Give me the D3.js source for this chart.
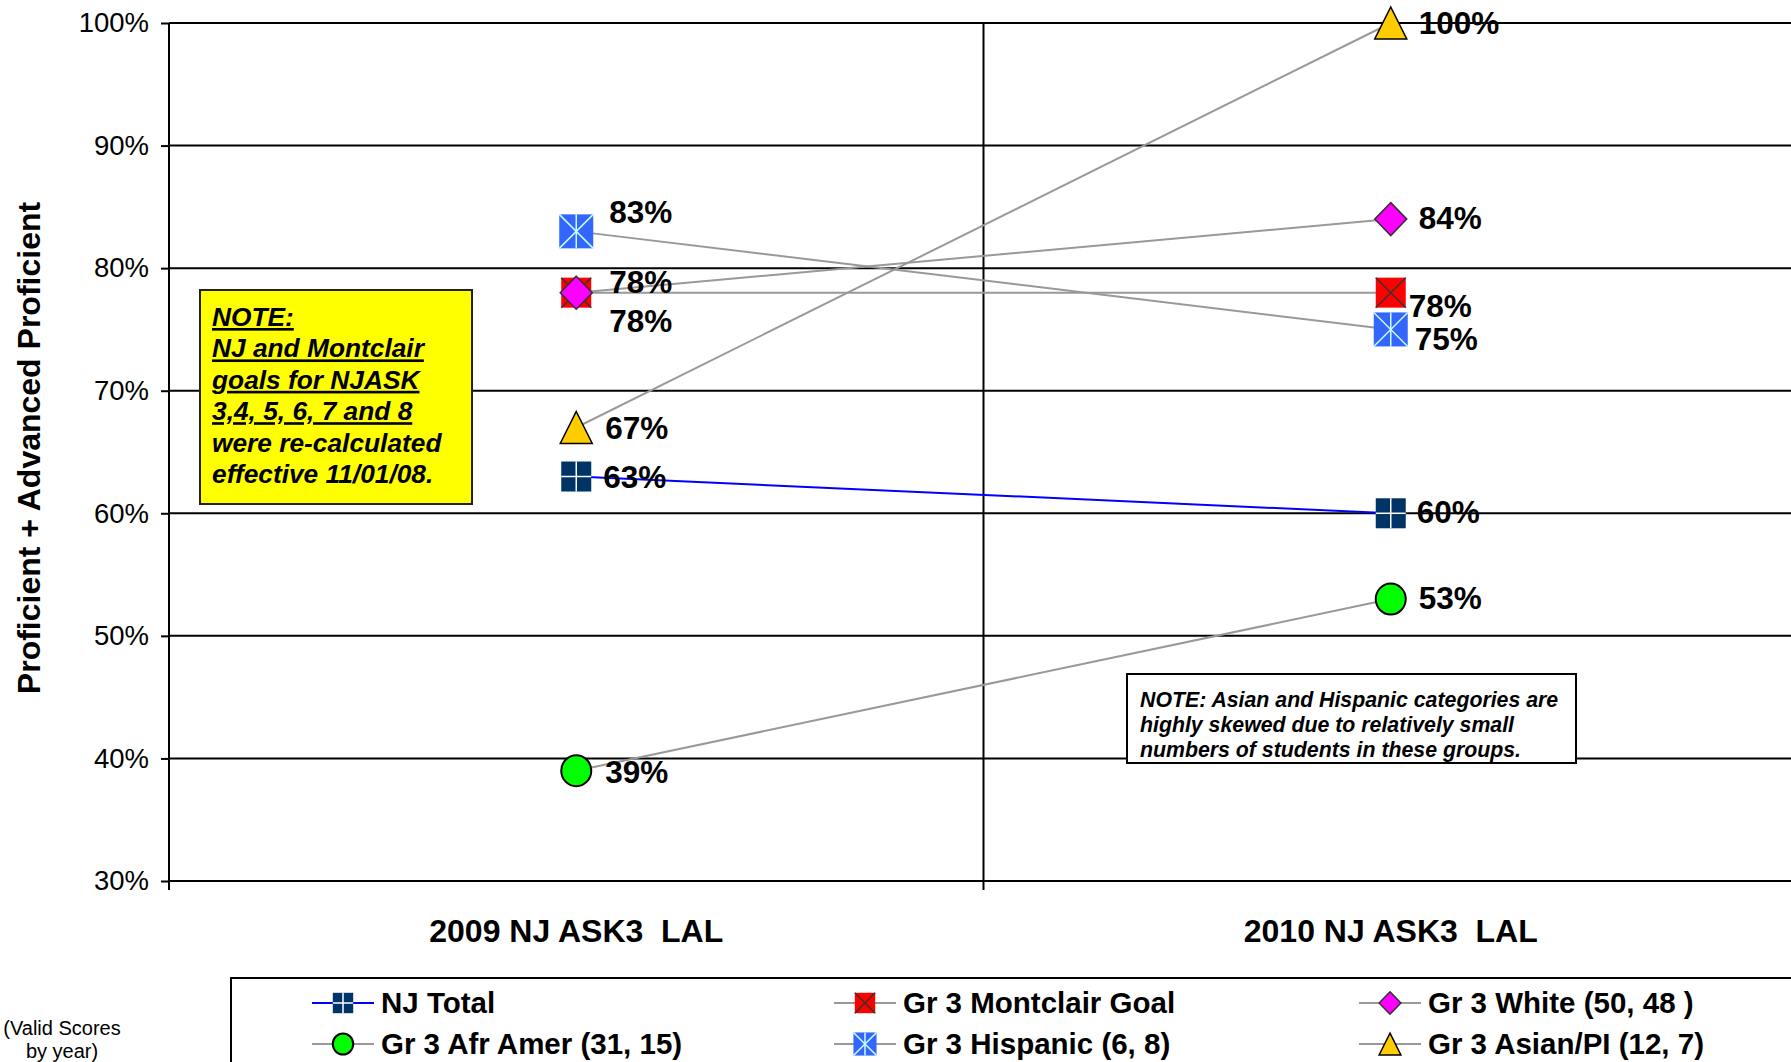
<!DOCTYPE html>
<html>
<head>
<meta charset="utf-8">
<script src="https://cdn.jsdelivr.net/npm/d3@7"></script>
<style>
  body { margin: 0; background: #fff; }
  svg { display: block; font-family: Arial, "Liberation Sans", sans-serif; }
</style>
</head>
<body>
<svg id="drawing_chart"></svg>
<script>
// categories and values
const categories = ["2009 NJ ASK3  LAL", "2010 NJ ASK3  LAL"];
const seriesNames = ["NJ Total", "Gr 3 Montclair Goal", "Gr 3 White (50, 48 )",
                     "Gr 3 Afr Amer (31, 15)", "Gr 3 Hispanic (6, 8)", "Gr 3 Asian/PI (12, 7)"];
const njTotal = [63, 60];
const montclairGoal = [78, 78];
const white = [78, 84];
const afrAmer = [39, 53];
const hispanic = [83, 75];
const asianPI = [67, 100];
const yTicks = [30, 40, 50, 60, 70, 80, 90, 100];

const note1 = ["NOTE:", "NJ and Montclair", "goals for NJASK", "3,4, 5, 6, 7 and 8", "were re-calculated", "effective 11/01/08."];
const note2 = ["NOTE: Asian and Hispanic categories are", "highly skewed due to relatively small", "numbers of students in these groups."];

const values = [njTotal, montclairGoal, white, afrAmer, hispanic, asianPI];

// look of each series
const styles = [
    {marker: "navyCross", line: "#0000FF"},
    {marker: "redX",      line: "#999999"},
    {marker: "diamond",   line: "#999999"},
    {marker: "circle",    line: "#999999"},
    {marker: "star",      line: "#999999"},
    {marker: "triangle",  line: "#999999"}
];
// label nudges [2009, 2010] as [dx, dy]
const nudges = [
    [[27, 11], [26, 10]],
    [[33, 39], [18, 24]],
    [[33, 0],  [28, 10]],
    [[29, 12], [28, 10]],
    [[33, -8], [24, 21]],
    [[29, 12], [28, 11]]
];

const config = {
    width: 1791,
    height: 1062,
    margin: {top: 23, left: 169, bottom: 181, right: -7}
};

const svg = d3.select("#drawing_chart")
    .attr("width", config.width)
    .attr("height", config.height);

const plotLeft = config.margin.left;
const plotRight = config.width - config.margin.right;
const plotTop = config.margin.top;
const plotBottom = config.height - config.margin.bottom;

const xscale = d3.scaleBand()
    .domain(categories)
    .range([plotLeft, plotRight]);

const yscale = d3.scaleLinear()
    .domain([30, 100])
    .range([plotBottom, plotTop]);

// gridlines
svg.append("g").selectAll("line")
    .data(yTicks)
    .join("line")
    .attr("x1", plotLeft)
    .attr("x2", plotRight)
    .attr("y1", d => yscale(d))
    .attr("y2", d => yscale(d))
    .attr("stroke", "#000")
    .attr("stroke-width", 2);

// category separators and x ticks
const bounds = categories.map(c => xscale(c)).concat([plotRight]);
svg.append("g").selectAll("line")
    .data(bounds)
    .join("line")
    .attr("x1", d => d)
    .attr("x2", d => d)
    .attr("y1", plotTop)
    .attr("y2", plotBottom + 9)
    .attr("stroke", "#000")
    .attr("stroke-width", 2);

// y axis
const yaxis = d3.axisLeft(yscale)
    .tickValues(yTicks)
    .tickSize(8)
    .tickPadding(12)
    .tickFormat(d => d + "%");

const yaxis_group = svg.append("g")
    .attr("transform", `translate(${plotLeft}, 0)`)
    .call(yaxis);
yaxis_group.select(".domain").remove();
yaxis_group.selectAll(".tick line").attr("stroke", "#000").attr("stroke-width", 2);
yaxis_group.selectAll(".tick text")
    .attr("font-size", 27.5)
    .attr("font-family", "Arial, 'Liberation Sans', sans-serif")
    .attr("fill", "#000");

// category labels
svg.append("g").selectAll("text")
    .data(categories)
    .join("text")
    .attr("x", d => xscale(d) + xscale.bandwidth() / 2)
    .attr("y", 942)
    .attr("text-anchor", "middle")
    .attr("font-size", 32)
    .attr("font-weight", "bold")
    .style("white-space", "pre")
    .text(d => d);

// y title
svg.append("text")
    .attr("transform", "translate(40, 448) rotate(-90)")
    .attr("text-anchor", "middle")
    .attr("font-size", 32)
    .attr("font-weight", "bold")
    .text("Proficient + Advanced Proficient");

// yellow note
const n1 = svg.append("g");
n1.append("rect")
    .attr("x", 200).attr("y", 290)
    .attr("width", 272).attr("height", 214)
    .attr("fill", "#FFFF00")
    .attr("stroke", "#222")
    .attr("stroke-width", 2);
n1.selectAll("text")
    .data(note1)
    .join("text")
    .attr("x", 212)
    .attr("y", (d, i) => 326 + i * 31.4)
    .attr("font-size", 26.3)
    .attr("font-weight", "bold")
    .attr("font-style", "italic")
    .attr("text-decoration", (d, i) => i < 4 ? "underline" : null)
    .text(d => d);

// small note
const n2 = svg.append("g");
n2.append("rect")
    .attr("x", 1127).attr("y", 674)
    .attr("width", 449).attr("height", 89)
    .attr("fill", "#fff")
    .attr("stroke", "#000")
    .attr("stroke-width", 2);
n2.selectAll("text")
    .data(note2)
    .join("text")
    .attr("x", 1140)
    .attr("y", (d, i) => 707 + i * 25)
    .attr("font-size", 21.3)
    .attr("font-weight", "bold")
    .attr("font-style", "italic")
    .text(d => d);

function drawMarker(g, type, k) {
    if (type === "navyCross") {
        const s = 30 * k;
        g.append("rect").attr("x", -s / 2).attr("y", -s / 2).attr("width", s).attr("height", s).attr("fill", "#003366");
        g.append("line").attr("x1", -s / 2).attr("x2", s / 2).attr("y1", 0).attr("y2", 0).attr("stroke", "#fff").attr("stroke-width", 1.5);
        g.append("line").attr("x1", 0).attr("x2", 0).attr("y1", -s / 2).attr("y2", s / 2).attr("stroke", "#fff").attr("stroke-width", 1.5);
    } else if (type === "redX") {
        const s = 30 * k;
        g.append("rect").attr("x", -s / 2).attr("y", -s / 2).attr("width", s).attr("height", s).attr("fill", "#FF0000");
        g.append("line").attr("x1", -s / 2).attr("x2", s / 2).attr("y1", -s / 2).attr("y2", s / 2).attr("stroke", "#333").attr("stroke-width", 1.5);
        g.append("line").attr("x1", -s / 2).attr("x2", s / 2).attr("y1", s / 2).attr("y2", -s / 2).attr("stroke", "#333").attr("stroke-width", 1.5);
    } else if (type === "diamond") {
        const w = 16 * k, h = 16.5 * k;
        g.append("path").attr("d", `M0,${-h}L${w},0L0,${h}L${-w},0Z`)
            .attr("fill", "#FF00FF").attr("stroke", "#333").attr("stroke-width", 1.5);
    } else if (type === "circle") {
        g.append("ellipse").attr("rx", 15 * k).attr("ry", 15.5 * k)
            .attr("fill", "#00FF00").attr("stroke", "#000").attr("stroke-width", 2);
    } else if (type === "star") {
        const s = 34 * k;
        g.append("rect").attr("x", -s / 2).attr("y", -s / 2).attr("width", s).attr("height", s).attr("fill", "#3366FF");
        const c = "#CCFFFF";
        g.append("line").attr("x1", -s / 2).attr("x2", s / 2).attr("y1", -s / 2).attr("y2", s / 2).attr("stroke", c).attr("stroke-width", 1.5);
        g.append("line").attr("x1", -s / 2).attr("x2", s / 2).attr("y1", s / 2).attr("y2", -s / 2).attr("stroke", c).attr("stroke-width", 1.5);
        g.append("line").attr("x1", 0).attr("x2", 0).attr("y1", -s / 2).attr("y2", s / 2).attr("stroke", c).attr("stroke-width", 1.5);
    } else if (type === "triangle") {
        const w = 16 * k, h = 16 * k;
        g.append("path").attr("d", `M0,${-h}L${w},${h}L${-w},${h}Z`)
            .attr("fill", "#FFCC00").attr("stroke", "#000").attr("stroke-width", 1.5);
    }
}

const cx = c => xscale(c) + xscale.bandwidth() / 2;

// lines
const line = d3.line()
    .x((d, i) => cx(categories[i]))
    .y(d => yscale(d));

values.forEach((vals, s) => {
    svg.append("path")
        .attr("d", line(vals))
        .attr("fill", "none")
        .attr("stroke", styles[s].line)
        .attr("stroke-width", 2);
});

// markers
values.forEach((vals, s) => {
    vals.forEach((v, i) => {
        const g = svg.append("g")
            .attr("transform", `translate(${cx(categories[i])}, ${yscale(v)})`);
        drawMarker(g, styles[s].marker, 1);
    });
});

// value labels
values.forEach((vals, s) => {
    vals.forEach((v, i) => {
        svg.append("text")
            .attr("x", cx(categories[i]) + nudges[s][i][0])
            .attr("y", yscale(v) + nudges[s][i][1])
            .attr("font-size", 31.5)
            .attr("font-weight", "bold")
            .text(v + "%");
    });
});

// legend
svg.append("rect")
    .attr("x", 231).attr("y", 978)
    .attr("width", 1600).attr("height", 200)
    .attr("fill", "#fff")
    .attr("stroke", "#000")
    .attr("stroke-width", 2);

const legendX = [343, 865, 1390];
const legendY = [1003, 1044];

seriesNames.forEach((name, s) => {
    const x = legendX[s % 3];
    const y = legendY[Math.floor(s / 3)];
    const g = svg.append("g").attr("transform", `translate(${x}, ${y})`);
    g.append("line")
        .attr("x1", -31).attr("x2", 31)
        .attr("stroke", styles[s].line)
        .attr("stroke-width", 2);
    drawMarker(g, styles[s].marker, 0.68);
    g.append("text")
        .attr("x", 38)
        .attr("y", 10)
        .attr("font-size", 29.5)
        .attr("font-weight", "bold")
        .text(name);
});

// side text at the left edge
svg.append("g").selectAll("text")
    .data(["(Valid Scores", "by year)"])
    .join("text")
    .attr("x", 62)
    .attr("y", (d, i) => 1035 + i * 23)
    .attr("text-anchor", "middle")
    .attr("font-size", 20)
    .text(d => d);
</script>
</body>
</html>
